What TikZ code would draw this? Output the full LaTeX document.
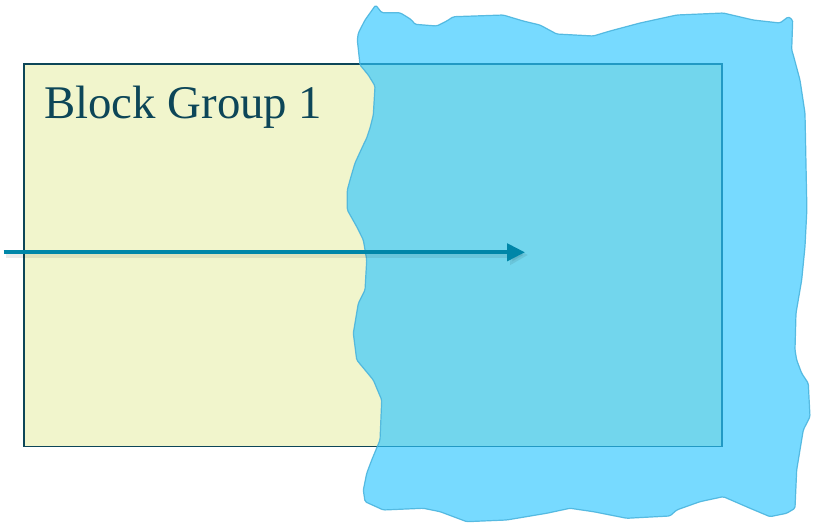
\documentclass[tikz,border=0pt]{standalone}
\usepackage{fontspec}
\setmainfont{Liberation Serif}
\usetikzlibrary{arrows.meta}
\definecolor{rectfill}{RGB}{241,245,204}
\definecolor{rectline}{RGB}{13,70,88}
\definecolor{blobfill}{RGB}{46,198,255}
\definecolor{blobline}{RGB}{70,178,220}
\definecolor{arrowcol}{RGB}{0,134,168}
\tikzset{
  groupbox/.style={draw=rectline, fill=rectfill, line width=1.5pt, minimum width=698pt, minimum height=382pt, inner sep=0pt, anchor=north west},
  grouplabel/.style={text=rectline, inner sep=0pt, anchor=base west, font=\fontsize{46.8}{56}\selectfont},
  blob/.style={fill=blobfill, fill opacity=0.65, draw=blobline, draw opacity=0.85, line width=1.2pt, line join=round, rounded corners=1.5pt},
  flow/.style={draw=arrowcol, line width=4.2pt, -{Triangle[length=18pt,width=17pt]}},
  flowshadow/.style={draw=black, opacity=0.08, line width=6pt, -{Triangle[length=18pt,width=19pt]}}
}
\begin{document}
\begin{tikzpicture}[x=1pt,y=-1pt]
\useasboundingbox (0,0) rectangle (816,526);
\node[groupbox] (grp) at (23.3,63.5) {};
\node[grouplabel] (lbl) at (44,118.3) {Block Group 1};
\path[blob] (375.7,5) -- (381.7,12.7) -- (400,12.7) -- (406.7,16.7) -- (411.7,20) -- (415,24.3) -- (436.7,26) -- (446.7,21) -- (453.3,16.7) -- (503.3,15) -- (523.3,21) -- (540,25) -- (556.7,34) -- (593.3,36) -- (610,31) -- (640,23) -- (676.7,15) -- (723.3,13) -- (753.3,20) -- (780,23) -- (788.3,16.7) -- (792.7,20) -- (791.7,50) -- (793.3,55) -- (800,80) -- (805,113) -- (806.7,200) -- (806.7,213.3) -- (805,246.7) -- (801.7,280) -- (796,313.3) -- (795,350) -- (796.7,360) -- (801.7,373.3) -- (808.3,383.3) -- (810,416.7) -- (803.3,430) -- (796.7,470) -- (795,508.3) -- (786.7,513.3) -- (770,516.7) -- (750,508.3) -- (723.3,496.7) -- (700,501.7) -- (676.7,510) -- (670,516) -- (626.7,518.3) -- (593.3,511.7) -- (570,508.3) -- (546.7,513.3) -- (506.7,520) -- (466.7,521.7) -- (440,511.7) -- (423.3,508.3) -- (383.3,510) -- (365,501.7) -- (363.3,490) -- (366.7,473.3) -- (371.7,460) -- (380,440) -- (381.7,400) -- (373.3,380) -- (356.7,360) -- (353.3,333.3) -- (358.3,303.3) -- (365,290) -- (366.7,260) -- (363.3,240) -- (356.7,226.7) -- (347.3,210) -- (347.3,190) -- (350,180) -- (355,163) -- (363.3,145) -- (366.7,138) -- (370,128) -- (373.3,115) -- (375,86) -- (368.3,75) -- (360,65) -- (357.3,40) -- (358.3,33) -- (365,20) -- cycle;
\coordinate (src) at (3.5,252.3);
\coordinate (dst) at (525,252.3);
\coordinate (srcs) at (6,255);
\coordinate (dsts) at (528,255);
\draw[flowshadow] (srcs) -- (dsts);
\draw[flow] (src) -- (dst);
\end{tikzpicture}
\end{document}
